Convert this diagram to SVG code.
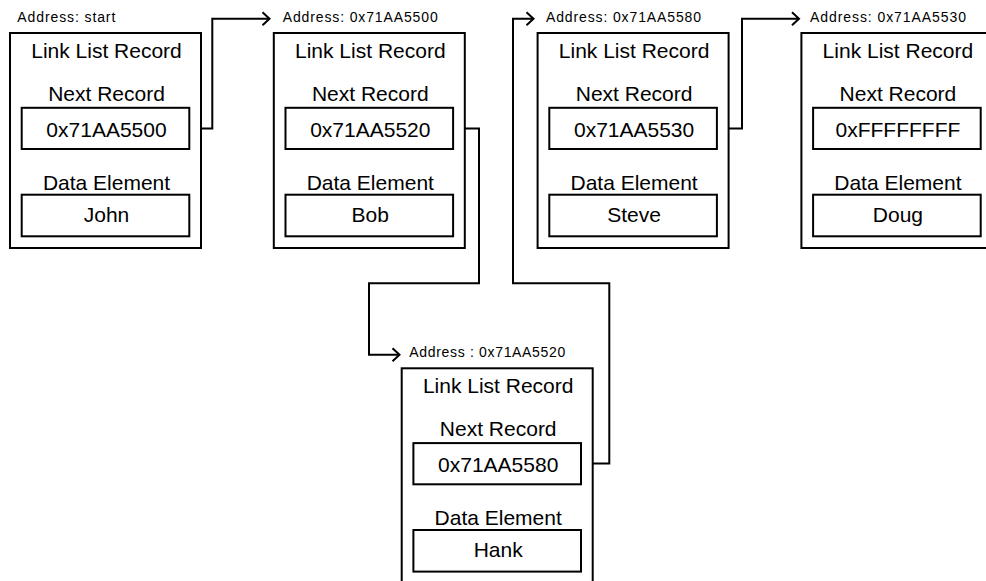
<svg xmlns="http://www.w3.org/2000/svg" width="986" height="581" viewBox="0 0 986 581">
  <style>
    .frame { fill: #fff; stroke: #000; stroke-width: 2; }
    .field { fill: #fff; stroke: #000; stroke-width: 2; }
    .t { font-family: "Liberation Sans", Arial, sans-serif; font-size: 21px; fill: #000; text-anchor: middle; }
    .addr { font-family: "Liberation Sans", Arial, sans-serif; font-size: 14px; fill: #000; }
    .wire { fill: none; stroke: #000; stroke-width: 2; }
  </style>
  <defs>
    <marker id="open-arrow" markerUnits="userSpaceOnUse" markerWidth="12" markerHeight="16" viewBox="-9 -8 11 16" refX="0" refY="0" orient="auto">
      <path d="M-7,-6.5 L0,0 L-7,6.5" fill="none" stroke="#000" stroke-width="2"/>
    </marker>
    <!-- one record: title, next-pointer field and data field -->
    <g id="record-shell">
      <rect class="frame" x="0" y="0" width="191" height="215"/>
      <rect class="field" x="11.7" y="74.8" width="167.6" height="41.2"/>
      <rect class="field" x="11.7" y="161.7" width="167.6" height="41.6"/>
      <text class="t" x="96.5" y="24.5">Link List Record</text>
      <text class="t" x="96.5" y="67.5">Next Record</text>
      <text class="t" x="96.5" y="156.5">Data Element</text>
    </g>
  </defs>

  <!-- pointer connectors -->
  <g id="connectors">
    <polyline class="wire" points="189.3,128.4 212.3,128.4 212.3,18.8 269.5,18.8" marker-end="url(#open-arrow)"/>
    <polyline class="wire" points="453.5,128.4 479,128.4 479,283.3 369,283.3 369,354.8 399.5,354.8" marker-end="url(#open-arrow)"/>
    <polyline class="wire" points="581,463.5 609.3,463.5 609.3,283.3 513,283.3 513,18.8 533.5,18.8" marker-end="url(#open-arrow)"/>
    <polyline class="wire" points="717.3,128.4 742,128.4 742,18.8 799,18.8" marker-end="url(#open-arrow)"/>
  </g>

  <g id="node-john">
    <text class="addr" x="17.3" y="22" textLength="98" lengthAdjust="spacing">Address: start</text>
    <g transform="translate(10,33)">
      <use href="#record-shell"/>
      <text class="t" x="96.5" y="103.5">0x71AA5500</text>
      <text class="t" x="96.5" y="189">John</text>
    </g>
  </g>

  <g id="node-bob">
    <text class="addr" x="282.7" y="22" textLength="155" lengthAdjust="spacing">Address: 0x71AA5500</text>
    <g transform="translate(273.8,33)">
      <use href="#record-shell"/>
      <text class="t" x="96.5" y="103.5">0x71AA5520</text>
      <text class="t" x="96.5" y="189">Bob</text>
    </g>
  </g>

  <g id="node-steve">
    <text class="addr" x="546" y="22" textLength="155" lengthAdjust="spacing">Address: 0x71AA5580</text>
    <g transform="translate(537.6,33)">
      <use href="#record-shell"/>
      <text class="t" x="96.5" y="103.5">0x71AA5530</text>
      <text class="t" x="96.5" y="189">Steve</text>
    </g>
  </g>

  <g id="node-doug">
    <text class="addr" x="810" y="22" textLength="156" lengthAdjust="spacing">Address: 0x71AA5530</text>
    <g transform="translate(801.4,33)">
      <use href="#record-shell"/>
      <text class="t" x="96.5" y="103.5">0xFFFFFFFF</text>
      <text class="t" x="96.5" y="189">Doug</text>
    </g>
  </g>

  <g id="node-hank">
    <text class="addr" x="409.3" y="357" textLength="156" lengthAdjust="spacing">Address : 0x71AA5520</text>
    <g transform="translate(401.7,368.3)">
      <use href="#record-shell"/>
      <text class="t" x="96.5" y="103.5">0x71AA5580</text>
      <text class="t" x="96.5" y="189">Hank</text>
    </g>
  </g>
</svg>
